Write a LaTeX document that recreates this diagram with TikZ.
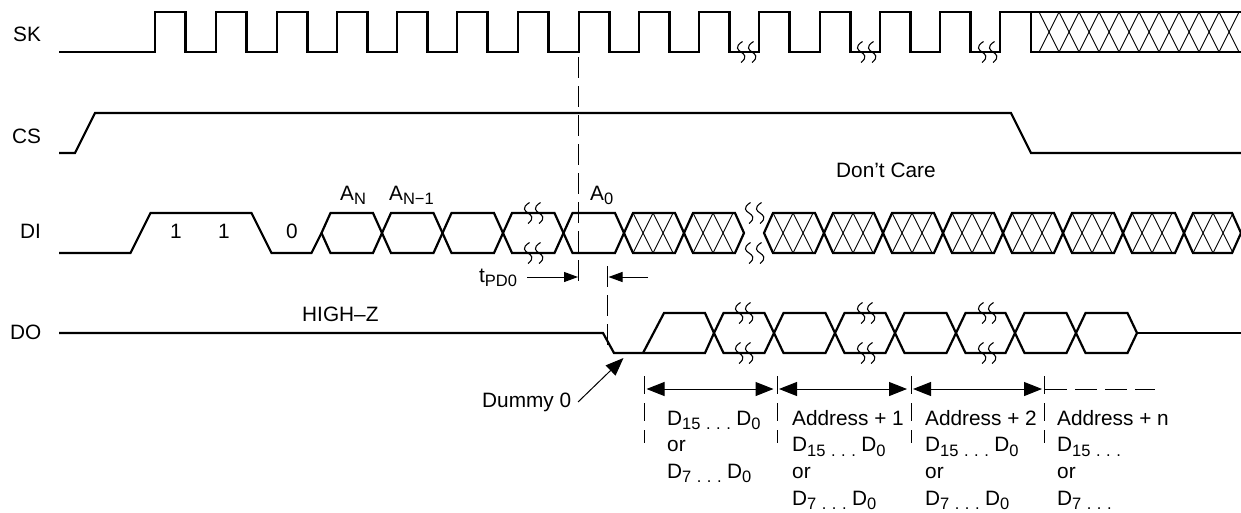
\documentclass[tikz,border=0pt]{standalone}
\usepackage{fontspec}
\setmainfont{Liberation Sans}
\usetikzlibrary{arrows.meta}
\newcommand{\subs}[1]{\raisebox{-4.5pt}{\fontsize{16.5}{16.5}\selectfont #1}}
\newcommand{\gapdots}{\subs{\hspace{5.5pt}.\hspace{5.5pt}.\hspace{5.5pt}.\hspace{5.5pt}}}
\begin{document}
\begin{tikzpicture}[
  x=1pt, y=-1pt,
  every node/.style={font=\fontsize{20.8}{26.6}\selectfont, inner sep=0pt, anchor=base west},
  stack/.style={align=left, anchor=north west},
  wave/.style={line width=2.2pt, line join=miter},
  hatch/.style={line width=0.9pt},
  guide/.style={line width=1pt, dash pattern=on 21pt off 8pt},
  dimline/.style={line width=1pt},
  % small tips for the delay, large ones for the word spans:
  tiny tip/.style={-{Triangle[length=14pt,width=10pt]}},
  span tip/.style={{Triangle[length=18pt,width=14pt]}-{Triangle[length=18pt,width=14pt]}},
  wiggle/.pic={\draw[line width=1.1pt] (1.5,-10.5) .. controls (-7,-5) and (-3,-2) .. (0,0)
    .. controls (3,2) and (7,5) .. (0,10.5);}
]
\useasboundingbox (0,0) rectangle (1241,512);

% signal names
\node (sk) at (13,41) {SK};
\node (cs) at (12,143) {CS};
\node (di) at (20,238) {DI};
\node (do) at (10,339) {DO};

% SK
\draw[wave] (59,52)
  foreach \x in {155,216,277,337,397,457,518,579,639,699,759,820,880,940}
    { -- (\x,52) -- (\x,12) -- ({\x+30.5},12) -- ({\x+30.5},52) }
  -- (1000,52) -- (1000,12) -- (1241,12);
\draw[wave] (1031,12) -- (1031,52) -- (1241,52);
\foreach \x in {1039,1059,...,1219} {
  \draw[hatch] (\x,12) -- ({\x+20},52);
  \draw[hatch] (\x,52) -- ({\x+20},12);
}
\foreach \x in {741,752,861,872,982,993}
  \pic at (\x,52) {wiggle};

% CS
\draw[wave] (59,153) -- (75,153) -- (95,113) -- (1011,113) -- (1031,153) -- (1241,153);

% DI
\draw[wave] (59,253) -- (130.5,253) -- (150.5,213) -- (251.5,213) -- (271.5,253)
  -- (311.5,253) -- (321.5,233);
\foreach \a/\b in {321.5/382,382/442.5,442.5/503,503/563.5,563.5/624,624/684,684/744,
    764/824,824/883,883/943,943/1003,1003/1063,1063/1123,1123/1184,1184/1241}
  \draw[wave] (\a,233) -- ({\a+9},213) -- ({\b-9},213) -- (\b,233) -- ({\b-9},253)
    -- ({\a+9},253) -- cycle;
\foreach \a in {624,684,764,824,883,943,1003,1063,1123,1184} {
  \foreach \s in {9,29} {
    \draw[hatch] ({\a+\s},213) -- ({\a+\s+20},253);
    \draw[hatch] ({\a+\s},253) -- ({\a+\s+20},213);
  }
}
\foreach \x in {528,539,749,760} {
  \pic at (\x,213) {wiggle};
  \pic at (\x,253) {wiggle};
}
\node (one1) at (170,238) {1};
\node (one2) at (218,238) {1};
\node (zero) at (286,238) {0};
\node (an) at (340,200) {A\subs{N}};
\node (an1) at (389,200) {A\subs{N−1}};
\node (a0) at (590,200) {A\subs{0}};
\node (care) at (836,177) {Don’t Care};

% DO
\draw[wave] (59,333) -- (603,333) -- (614,353) -- (705,353) -- (714,333);
\draw[wave] (643,353) -- (664,313) -- (705,313) -- (714,333);
\foreach \a/\b in {714/774,774/835,835/895,895/956,956/1015,1015/1076,1076/1137}
  \draw[wave] (\a,333) -- ({\a+9.5},313) -- ({\b-9.5},313) -- (\b,333) -- ({\b-9.5},353)
    -- ({\a+9.5},353) -- cycle;
\draw[wave] (1137,333) -- (1241,333);
\foreach \x in {739,749,861,871,982,992} {
  \pic at (\x,313) {wiggle};
  \pic at (\x,353) {wiggle};
}
\node (highz) at (302,321) {HIGH–Z};

% delay marks
\draw[guide] (578.5,57) -- (578.5,285);
\draw[guide] (607.5,266) -- (607.5,352);
\node (tpd) at (479,282) {t\subs{PD0}};
\coordinate (tpdFrom) at (527,277);
\coordinate (tpdTo) at (578,277);
\coordinate (backFrom) at (648,277);
\coordinate (backTo) at (608.5,277);
\draw[dimline, tiny tip] (tpdFrom) -- (tpdTo);
\draw[dimline, tiny tip] (backFrom) -- (backTo);

\node (dummy) at (482,407) {Dummy 0};
\coordinate (dummyFrom) at (578,402);
\coordinate (dummyTo) at (623.5,358);
\draw[dimline, -{Triangle[length=18pt,width=14pt]}] (dummyFrom) -- (dummyTo);

% word spans
\foreach \x in {644,777,911,1044}
  \draw[guide, dash pattern=on 18pt off 9pt] (\x,376) -- (\x,443);
\coordinate (s1a) at (646.5,389);
\coordinate (s1b) at (773.5,389);
\coordinate (s2a) at (779,389);
\coordinate (s2b) at (907,389);
\coordinate (s3a) at (913,389);
\coordinate (s3b) at (1042,389);
\coordinate (s4a) at (1045,389);
\coordinate (s4b) at (1155,389);
\draw[dimline, span tip] (s1a) -- (s1b);
\draw[dimline, span tip] (s2a) -- (s2b);
\draw[dimline, span tip] (s3a) -- (s3b);
\draw[guide, dash pattern=on 22pt off 8pt] (s4a) -- (s4b);

\node[stack] (word1) at (667,410.5) {D\subs{15}\gapdots D\subs{0}\\or\\D\subs{7}\gapdots D\subs{0}};
\node[stack] (word2) at (792,410) {Address + 1\\D\subs{15}\gapdots D\subs{0}\\or\\D\subs{7}\gapdots D\subs{0}};
\node[stack] (word3) at (925,410) {Address + 2\\D\subs{15}\gapdots D\subs{0}\\or\\D\subs{7}\gapdots D\subs{0}};
\node[stack] (word4) at (1057,410) {Address + n\\D\subs{15}\gapdots\\or\\D\subs{7}\gapdots};
\end{tikzpicture}
\end{document}
